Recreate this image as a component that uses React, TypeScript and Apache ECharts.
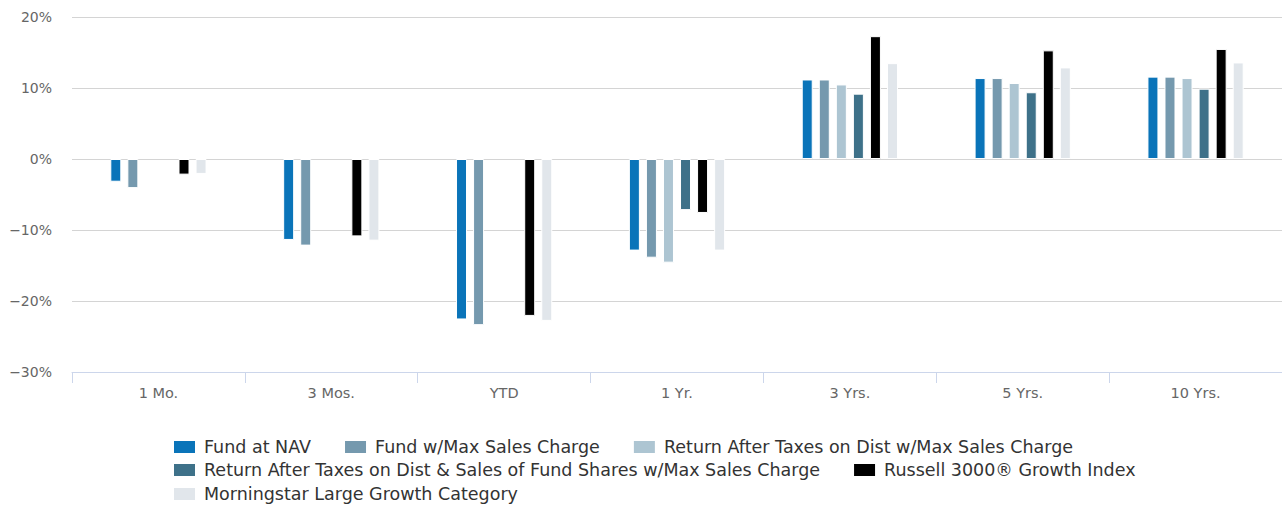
import React, { useEffect, useRef } from "react";
import * as echarts from "echarts";

const categories = ["1 Mo.", "3 Mos.", "YTD", "1 Yr.", "3 Yrs.", "5 Yrs.", "10 Yrs."];
const seriesNames = [
  "Fund at NAV",
  "Fund w/Max Sales Charge",
  "Return After Taxes on Dist w/Max Sales Charge",
  "Return After Taxes on Dist & Sales of Fund Shares w/Max Sales Charge",
  "Russell 3000® Growth Index",
  "Morningstar Large Growth Category",
];
const fundNav = [-3.2, -11.4, -22.6, -12.9, 11.2, 11.4, 11.6];
const fundMax = [-4.1, -12.2, -23.4, -13.9, 11.2, 11.4, 11.6];
const afterTaxDist = [null, null, null, -14.6, 10.5, 10.7, 11.4];
const afterTaxSales = [null, null, null, -7.2, 9.2, 9.4, 9.9];
const russell = [-2.2, -10.9, -22.1, -7.6, 17.3, 15.3, 15.5];
const morningstar = [-2.1, -11.5, -22.8, -12.9, 13.5, 12.9, 13.6];
const colors = ["#0a74b9", "#7599ae", "#adc5d2", "#3e7189", "#000000", "#e1e6eb"];
const allData = [fundNav, fundMax, afterTaxDist, afterTaxSales, russell, morningstar];

const FONT = "DejaVu Sans";

export default function App() {
  const ref = useRef<HTMLDivElement>(null);
  useEffect(() => {
    if (!ref.current) return;
    const chart = echarts.init(ref.current, null, { renderer: "svg" });
    const legendText = {
      color: "#333",
      fontSize: 17.5,
      fontFamily: FONT,
      lineHeight: 20,
      padding: [0, 0, 0, 3],
    };
    const legendBase = {
      orient: "horizontal" as const,
      itemWidth: 23,
      itemHeight: 14,
      itemGap: 32,
      icon: "rect",
      textStyle: legendText,
      padding: 0,
      selectedMode: false,
    };
    chart.setOption({
      animation: false,
      color: colors,
      grid: { left: 72, right: 0, top: 17, bottom: 136, containLabel: false },
      legend: [
        { ...legendBase, left: 172, top: 437, data: seriesNames.slice(0, 3) },
        { ...legendBase, left: 172, top: 460, data: seriesNames.slice(3, 5) },
        { ...legendBase, left: 172, top: 484, data: seriesNames.slice(5, 6) },
      ],
      xAxis: {
        type: "category",
        data: categories,
        axisLine: { show: true, onZero: false, lineStyle: { color: "#ccd6eb", width: 1 } },
        axisTick: { show: true, length: 11, lineStyle: { color: "#ccd6eb" } },
        axisLabel: { color: "#666", fontSize: 14.5, fontFamily: FONT, margin: 13 },
      },
      yAxis: {
        type: "value",
        min: -30,
        max: 20,
        interval: 10,
        axisLine: { show: false },
        axisTick: { show: false },
        splitLine: { lineStyle: { color: "#d4d4d4", width: 1 } },
        axisLabel: {
          color: "#666",
          fontSize: 14,
          fontFamily: FONT,
          margin: 20,
          formatter: (v: number) => String(v).replace("-", "\u2212") + "%",
        },
      },
      series: allData.map((d, i) => ({
        name: seriesNames[i],
        type: "bar",
        data: d.map((v) => (v === null ? "-" : v)),
        barWidth: 11,
        barGap: "55%",
        itemStyle: { color: colors[i], borderColor: "#ffffff", borderWidth: 1 },
      })),
    });
    return () => chart.dispose();
  }, []);
  return (
    <div
      ref={ref}
      style={{ position: "absolute", left: 0, top: 0, width: 1282, height: 508 }}
    />
  );
}
